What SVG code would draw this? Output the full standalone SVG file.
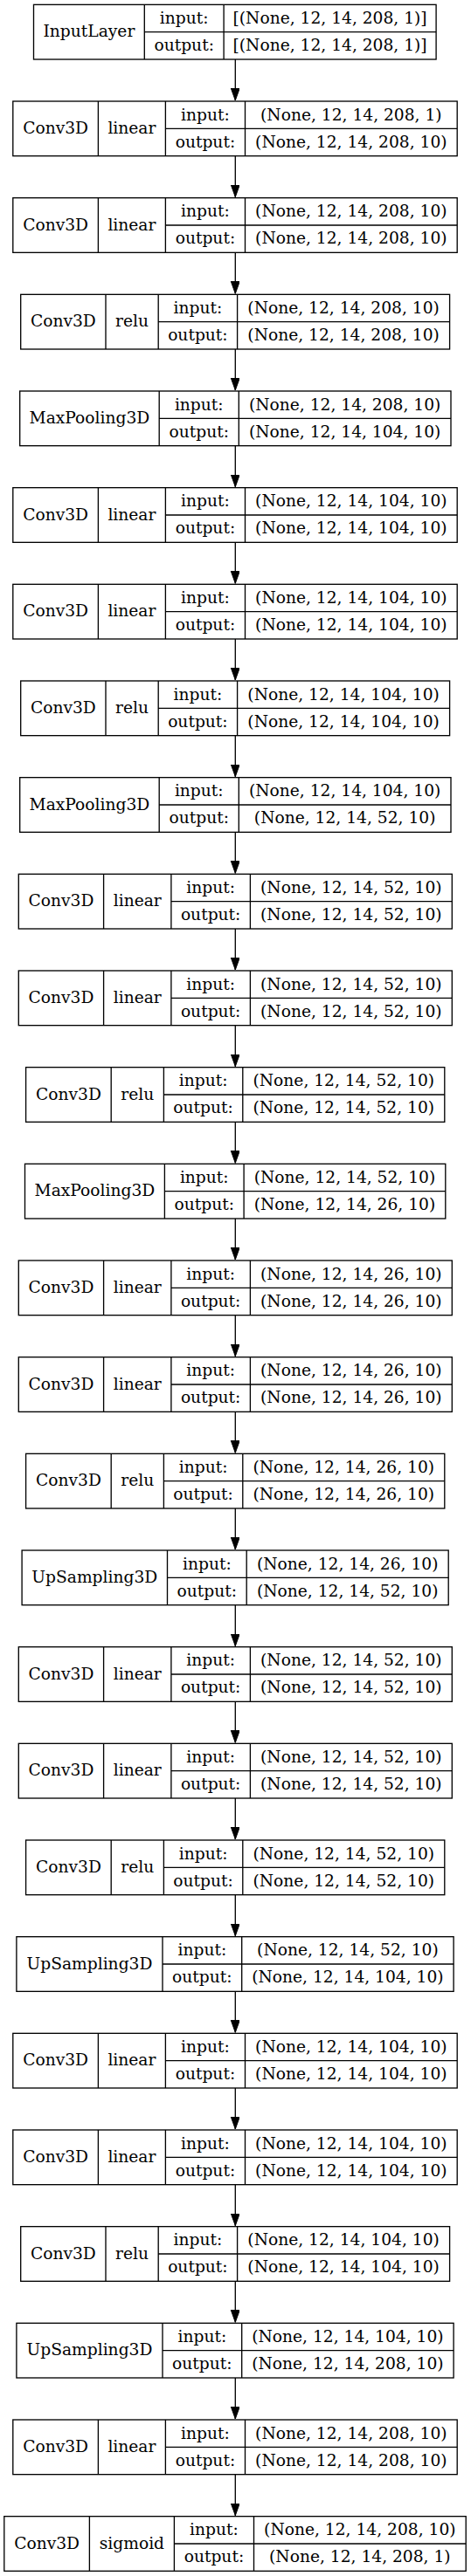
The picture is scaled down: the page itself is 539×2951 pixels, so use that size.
<svg xmlns="http://www.w3.org/2000/svg" width="539" height="2951" viewBox="0 0 539 2951">
<defs>
<style>
.node rect{fill:#fff;stroke:#000;stroke-width:1.33}
.node path{fill:none;stroke:#000;stroke-width:1.33}
.node text{font-family:"DejaVu Serif","Liberation Serif",serif;font-size:18.67px;text-anchor:middle;fill:#000}
.edge{stroke:#000;stroke-width:1.33;fill:none;marker-end:url(#arr)}
</style>
<marker id="arr" markerUnits="userSpaceOnUse" markerWidth="15" markerHeight="11" refX="14" refY="5" orient="auto">
<path d="M0,0 L14,5 L0,10 Z" fill="#000" stroke="#000" stroke-width="1"/>
</marker>
</defs>
<rect width="539" height="2951" fill="#fff"/>
<g id="edges">
<line class="edge" x1="269.3" y1="68" x2="269.3" y2="115"/>
<line class="edge" x1="269.3" y1="178.67" x2="269.3" y2="225.67"/>
<line class="edge" x1="269.3" y1="289.33" x2="269.3" y2="336.33"/>
<line class="edge" x1="269.3" y1="400" x2="269.3" y2="447"/>
<line class="edge" x1="269.3" y1="510.67" x2="269.3" y2="557.67"/>
<line class="edge" x1="269.3" y1="621.33" x2="269.3" y2="668.33"/>
<line class="edge" x1="269.3" y1="732" x2="269.3" y2="779"/>
<line class="edge" x1="269.3" y1="842.67" x2="269.3" y2="889.67"/>
<line class="edge" x1="269.3" y1="953.33" x2="269.3" y2="1000.33"/>
<line class="edge" x1="269.3" y1="1064" x2="269.3" y2="1111"/>
<line class="edge" x1="269.3" y1="1174.67" x2="269.3" y2="1221.67"/>
<line class="edge" x1="269.3" y1="1285.33" x2="269.3" y2="1332.33"/>
<line class="edge" x1="269.3" y1="1396" x2="269.3" y2="1443"/>
<line class="edge" x1="269.3" y1="1506.67" x2="269.3" y2="1553.67"/>
<line class="edge" x1="269.3" y1="1617.33" x2="269.3" y2="1664.33"/>
<line class="edge" x1="269.3" y1="1728" x2="269.3" y2="1775"/>
<line class="edge" x1="269.3" y1="1838.67" x2="269.3" y2="1885.67"/>
<line class="edge" x1="269.3" y1="1949.33" x2="269.3" y2="1996.33"/>
<line class="edge" x1="269.3" y1="2060" x2="269.3" y2="2107"/>
<line class="edge" x1="269.3" y1="2170.67" x2="269.3" y2="2217.67"/>
<line class="edge" x1="269.3" y1="2281.33" x2="269.3" y2="2328.33"/>
<line class="edge" x1="269.3" y1="2392" x2="269.3" y2="2439"/>
<line class="edge" x1="269.3" y1="2502.67" x2="269.3" y2="2549.67"/>
<line class="edge" x1="269.3" y1="2613.33" x2="269.3" y2="2660.33"/>
<line class="edge" x1="269.3" y1="2724" x2="269.3" y2="2771"/>
<line class="edge" x1="269.3" y1="2834.67" x2="269.3" y2="2881.67"/>
</g>

<g id="n0" class="node" transform="translate(0,5.33)">
<rect x="38.5" y="0" width="460.6" height="62.67"/>
<path d="M165.3 0V62.67M256.1 0V62.67M165.3 31.33H499.1"/>
<text x="101.9" y="37.1">InputLayer</text>
<text x="210.7" y="21.5">input:</text><text x="210.7" y="52.8">output:</text>
<text x="377.6" y="21.5">[(None, 12, 14, 208, 1)]</text><text x="377.6" y="52.8">[(None, 12, 14, 208, 1)]</text>
</g>

<g id="n1" class="node" transform="translate(0,116)">
<rect x="14.8" y="0" width="508.4" height="62.67"/>
<path d="M112.4 0V62.67M189.4 0V62.67M280.5 0V62.67M189.4 31.33H523.2"/>
<text x="63.6" y="37.1">Conv3D</text><text x="150.9" y="37.1">linear</text>
<text x="234.95" y="21.5">input:</text><text x="234.95" y="52.8">output:</text>
<text x="401.85" y="21.5">(None, 12, 14, 208, 1)</text><text x="401.85" y="52.8">(None, 12, 14, 208, 10)</text>
</g>

<g id="n2" class="node" transform="translate(0,226.67)">
<rect x="14.8" y="0" width="508.4" height="62.67"/>
<path d="M112.4 0V62.67M189.4 0V62.67M280.5 0V62.67M189.4 31.33H523.2"/>
<text x="63.6" y="37.1">Conv3D</text><text x="150.9" y="37.1">linear</text>
<text x="234.95" y="21.5">input:</text><text x="234.95" y="52.8">output:</text>
<text x="401.85" y="21.5">(None, 12, 14, 208, 10)</text><text x="401.85" y="52.8">(None, 12, 14, 208, 10)</text>
</g>

<g id="n3" class="node" transform="translate(0,337.33)">
<rect x="23.7" y="0" width="490.9" height="62.67"/>
<path d="M121 0V62.67M181.2 0V62.67M271.6 0V62.67M181.2 31.33H514.6"/>
<text x="72.35" y="37.1">Conv3D</text><text x="151.1" y="37.1">relu</text>
<text x="226.4" y="21.5">input:</text><text x="226.4" y="52.8">output:</text>
<text x="393.1" y="21.5">(None, 12, 14, 208, 10)</text><text x="393.1" y="52.8">(None, 12, 14, 208, 10)</text>
</g>

<g id="n4" class="node" transform="translate(0,448)">
<rect x="22.7" y="0" width="493.3" height="62.67"/>
<path d="M182.2 0V62.67M273.3 0V62.67M182.2 31.33H516"/>
<text x="102.45" y="37.1">MaxPooling3D</text>
<text x="227.75" y="21.5">input:</text><text x="227.75" y="52.8">output:</text>
<text x="394.65" y="21.5">(None, 12, 14, 208, 10)</text><text x="394.65" y="52.8">(None, 12, 14, 104, 10)</text>
</g>

<g id="n5" class="node" transform="translate(0,558.67)">
<rect x="14.8" y="0" width="508.4" height="62.67"/>
<path d="M112.4 0V62.67M189.4 0V62.67M280.5 0V62.67M189.4 31.33H523.2"/>
<text x="63.6" y="37.1">Conv3D</text><text x="150.9" y="37.1">linear</text>
<text x="234.95" y="21.5">input:</text><text x="234.95" y="52.8">output:</text>
<text x="401.85" y="21.5">(None, 12, 14, 104, 10)</text><text x="401.85" y="52.8">(None, 12, 14, 104, 10)</text>
</g>

<g id="n6" class="node" transform="translate(0,669.33)">
<rect x="14.8" y="0" width="508.4" height="62.67"/>
<path d="M112.4 0V62.67M189.4 0V62.67M280.5 0V62.67M189.4 31.33H523.2"/>
<text x="63.6" y="37.1">Conv3D</text><text x="150.9" y="37.1">linear</text>
<text x="234.95" y="21.5">input:</text><text x="234.95" y="52.8">output:</text>
<text x="401.85" y="21.5">(None, 12, 14, 104, 10)</text><text x="401.85" y="52.8">(None, 12, 14, 104, 10)</text>
</g>

<g id="n7" class="node" transform="translate(0,780)">
<rect x="23.7" y="0" width="490.9" height="62.67"/>
<path d="M121 0V62.67M181.2 0V62.67M271.6 0V62.67M181.2 31.33H514.6"/>
<text x="72.35" y="37.1">Conv3D</text><text x="151.1" y="37.1">relu</text>
<text x="226.4" y="21.5">input:</text><text x="226.4" y="52.8">output:</text>
<text x="393.1" y="21.5">(None, 12, 14, 104, 10)</text><text x="393.1" y="52.8">(None, 12, 14, 104, 10)</text>
</g>

<g id="n8" class="node" transform="translate(0,890.67)">
<rect x="22.7" y="0" width="493.3" height="62.67"/>
<path d="M182.2 0V62.67M273.3 0V62.67M182.2 31.33H516"/>
<text x="102.45" y="37.1">MaxPooling3D</text>
<text x="227.75" y="21.5">input:</text><text x="227.75" y="52.8">output:</text>
<text x="394.65" y="21.5">(None, 12, 14, 104, 10)</text><text x="394.65" y="52.8">(None, 12, 14, 52, 10)</text>
</g>

<g id="n9" class="node" transform="translate(0,1001.33)">
<rect x="21.3" y="0" width="496" height="62.67"/>
<path d="M118.6 0V62.67M195.9 0V62.67M286.4 0V62.67M195.9 31.33H517.3"/>
<text x="69.95" y="37.1">Conv3D</text><text x="157.25" y="37.1">linear</text>
<text x="241.15" y="21.5">input:</text><text x="241.15" y="52.8">output:</text>
<text x="401.85" y="21.5">(None, 12, 14, 52, 10)</text><text x="401.85" y="52.8">(None, 12, 14, 52, 10)</text>
</g>

<g id="n10" class="node" transform="translate(0,1112)">
<rect x="21.3" y="0" width="496" height="62.67"/>
<path d="M118.6 0V62.67M195.9 0V62.67M286.4 0V62.67M195.9 31.33H517.3"/>
<text x="69.95" y="37.1">Conv3D</text><text x="157.25" y="37.1">linear</text>
<text x="241.15" y="21.5">input:</text><text x="241.15" y="52.8">output:</text>
<text x="401.85" y="21.5">(None, 12, 14, 52, 10)</text><text x="401.85" y="52.8">(None, 12, 14, 52, 10)</text>
</g>

<g id="n11" class="node" transform="translate(0,1222.67)">
<rect x="29.6" y="0" width="479.2" height="62.67"/>
<path d="M127.2 0V62.67M187.4 0V62.67M277.8 0V62.67M187.4 31.33H508.8"/>
<text x="78.4" y="37.1">Conv3D</text><text x="157.3" y="37.1">relu</text>
<text x="232.6" y="21.5">input:</text><text x="232.6" y="52.8">output:</text>
<text x="393.3" y="21.5">(None, 12, 14, 52, 10)</text><text x="393.3" y="52.8">(None, 12, 14, 52, 10)</text>
</g>

<g id="n12" class="node" transform="translate(0,1333.33)">
<rect x="28.5" y="0" width="481.3" height="62.67"/>
<path d="M188.4 0V62.67M279.1 0V62.67M188.4 31.33H509.8"/>
<text x="108.45" y="37.1">MaxPooling3D</text>
<text x="233.75" y="21.5">input:</text><text x="233.75" y="52.8">output:</text>
<text x="394.45" y="21.5">(None, 12, 14, 52, 10)</text><text x="394.45" y="52.8">(None, 12, 14, 26, 10)</text>
</g>

<g id="n13" class="node" transform="translate(0,1444)">
<rect x="21.3" y="0" width="496" height="62.67"/>
<path d="M118.6 0V62.67M195.9 0V62.67M286.4 0V62.67M195.9 31.33H517.3"/>
<text x="69.95" y="37.1">Conv3D</text><text x="157.25" y="37.1">linear</text>
<text x="241.15" y="21.5">input:</text><text x="241.15" y="52.8">output:</text>
<text x="401.85" y="21.5">(None, 12, 14, 26, 10)</text><text x="401.85" y="52.8">(None, 12, 14, 26, 10)</text>
</g>

<g id="n14" class="node" transform="translate(0,1554.67)">
<rect x="21.3" y="0" width="496" height="62.67"/>
<path d="M118.6 0V62.67M195.9 0V62.67M286.4 0V62.67M195.9 31.33H517.3"/>
<text x="69.95" y="37.1">Conv3D</text><text x="157.25" y="37.1">linear</text>
<text x="241.15" y="21.5">input:</text><text x="241.15" y="52.8">output:</text>
<text x="401.85" y="21.5">(None, 12, 14, 26, 10)</text><text x="401.85" y="52.8">(None, 12, 14, 26, 10)</text>
</g>

<g id="n15" class="node" transform="translate(0,1665.33)">
<rect x="29.6" y="0" width="479.2" height="62.67"/>
<path d="M127.2 0V62.67M187.4 0V62.67M277.8 0V62.67M187.4 31.33H508.8"/>
<text x="78.4" y="37.1">Conv3D</text><text x="157.3" y="37.1">relu</text>
<text x="232.6" y="21.5">input:</text><text x="232.6" y="52.8">output:</text>
<text x="393.3" y="21.5">(None, 12, 14, 26, 10)</text><text x="393.3" y="52.8">(None, 12, 14, 26, 10)</text>
</g>

<g id="n16" class="node" transform="translate(0,1776)">
<rect x="25.1" y="0" width="488.1" height="62.67"/>
<path d="M191.5 0V62.67M282.2 0V62.67M191.5 31.33H513.2"/>
<text x="108.3" y="37.1">UpSampling3D</text>
<text x="236.85" y="21.5">input:</text><text x="236.85" y="52.8">output:</text>
<text x="397.7" y="21.5">(None, 12, 14, 26, 10)</text><text x="397.7" y="52.8">(None, 12, 14, 52, 10)</text>
</g>

<g id="n17" class="node" transform="translate(0,1886.67)">
<rect x="21.3" y="0" width="496" height="62.67"/>
<path d="M118.6 0V62.67M195.9 0V62.67M286.4 0V62.67M195.9 31.33H517.3"/>
<text x="69.95" y="37.1">Conv3D</text><text x="157.25" y="37.1">linear</text>
<text x="241.15" y="21.5">input:</text><text x="241.15" y="52.8">output:</text>
<text x="401.85" y="21.5">(None, 12, 14, 52, 10)</text><text x="401.85" y="52.8">(None, 12, 14, 52, 10)</text>
</g>

<g id="n18" class="node" transform="translate(0,1997.33)">
<rect x="21.3" y="0" width="496" height="62.67"/>
<path d="M118.6 0V62.67M195.9 0V62.67M286.4 0V62.67M195.9 31.33H517.3"/>
<text x="69.95" y="37.1">Conv3D</text><text x="157.25" y="37.1">linear</text>
<text x="241.15" y="21.5">input:</text><text x="241.15" y="52.8">output:</text>
<text x="401.85" y="21.5">(None, 12, 14, 52, 10)</text><text x="401.85" y="52.8">(None, 12, 14, 52, 10)</text>
</g>

<g id="n19" class="node" transform="translate(0,2108)">
<rect x="29.6" y="0" width="479.2" height="62.67"/>
<path d="M127.2 0V62.67M187.4 0V62.67M277.8 0V62.67M187.4 31.33H508.8"/>
<text x="78.4" y="37.1">Conv3D</text><text x="157.3" y="37.1">relu</text>
<text x="232.6" y="21.5">input:</text><text x="232.6" y="52.8">output:</text>
<text x="393.3" y="21.5">(None, 12, 14, 52, 10)</text><text x="393.3" y="52.8">(None, 12, 14, 52, 10)</text>
</g>

<g id="n20" class="node" transform="translate(0,2218.67)">
<rect x="18.9" y="0" width="500.2" height="62.67"/>
<path d="M186 0V62.67M276.7 0V62.67M186 31.33H519.1"/>
<text x="102.45" y="37.1">UpSampling3D</text>
<text x="231.35" y="21.5">input:</text><text x="231.35" y="52.8">output:</text>
<text x="397.9" y="21.5">(None, 12, 14, 52, 10)</text><text x="397.9" y="52.8">(None, 12, 14, 104, 10)</text>
</g>

<g id="n21" class="node" transform="translate(0,2329.33)">
<rect x="14.8" y="0" width="508.4" height="62.67"/>
<path d="M112.4 0V62.67M189.4 0V62.67M280.5 0V62.67M189.4 31.33H523.2"/>
<text x="63.6" y="37.1">Conv3D</text><text x="150.9" y="37.1">linear</text>
<text x="234.95" y="21.5">input:</text><text x="234.95" y="52.8">output:</text>
<text x="401.85" y="21.5">(None, 12, 14, 104, 10)</text><text x="401.85" y="52.8">(None, 12, 14, 104, 10)</text>
</g>

<g id="n22" class="node" transform="translate(0,2440)">
<rect x="14.8" y="0" width="508.4" height="62.67"/>
<path d="M112.4 0V62.67M189.4 0V62.67M280.5 0V62.67M189.4 31.33H523.2"/>
<text x="63.6" y="37.1">Conv3D</text><text x="150.9" y="37.1">linear</text>
<text x="234.95" y="21.5">input:</text><text x="234.95" y="52.8">output:</text>
<text x="401.85" y="21.5">(None, 12, 14, 104, 10)</text><text x="401.85" y="52.8">(None, 12, 14, 104, 10)</text>
</g>

<g id="n23" class="node" transform="translate(0,2550.67)">
<rect x="23.7" y="0" width="490.9" height="62.67"/>
<path d="M121 0V62.67M181.2 0V62.67M271.6 0V62.67M181.2 31.33H514.6"/>
<text x="72.35" y="37.1">Conv3D</text><text x="151.1" y="37.1">relu</text>
<text x="226.4" y="21.5">input:</text><text x="226.4" y="52.8">output:</text>
<text x="393.1" y="21.5">(None, 12, 14, 104, 10)</text><text x="393.1" y="52.8">(None, 12, 14, 104, 10)</text>
</g>

<g id="n24" class="node" transform="translate(0,2661.33)">
<rect x="18.9" y="0" width="500.2" height="62.67"/>
<path d="M186 0V62.67M276.7 0V62.67M186 31.33H519.1"/>
<text x="102.45" y="37.1">UpSampling3D</text>
<text x="231.35" y="21.5">input:</text><text x="231.35" y="52.8">output:</text>
<text x="397.9" y="21.5">(None, 12, 14, 104, 10)</text><text x="397.9" y="52.8">(None, 12, 14, 208, 10)</text>
</g>

<g id="n25" class="node" transform="translate(0,2772)">
<rect x="14.8" y="0" width="508.4" height="62.67"/>
<path d="M112.4 0V62.67M189.4 0V62.67M280.5 0V62.67M189.4 31.33H523.2"/>
<text x="63.6" y="37.1">Conv3D</text><text x="150.9" y="37.1">linear</text>
<text x="234.95" y="21.5">input:</text><text x="234.95" y="52.8">output:</text>
<text x="401.85" y="21.5">(None, 12, 14, 208, 10)</text><text x="401.85" y="52.8">(None, 12, 14, 208, 10)</text>
</g>

<g id="n26" class="node" transform="translate(0,2882.67)">
<rect x="4.8" y="0" width="528.4" height="62.67"/>
<path d="M102.4 0V62.67M199.4 0V62.67M290.5 0V62.67M199.4 31.33H533.2"/>
<text x="53.6" y="37.1">Conv3D</text><text x="150.9" y="37.1">sigmoid</text>
<text x="244.95" y="21.5">input:</text><text x="244.95" y="52.8">output:</text>
<text x="411.85" y="21.5">(None, 12, 14, 208, 10)</text><text x="411.85" y="52.8">(None, 12, 14, 208, 1)</text>
</g>
</svg>
